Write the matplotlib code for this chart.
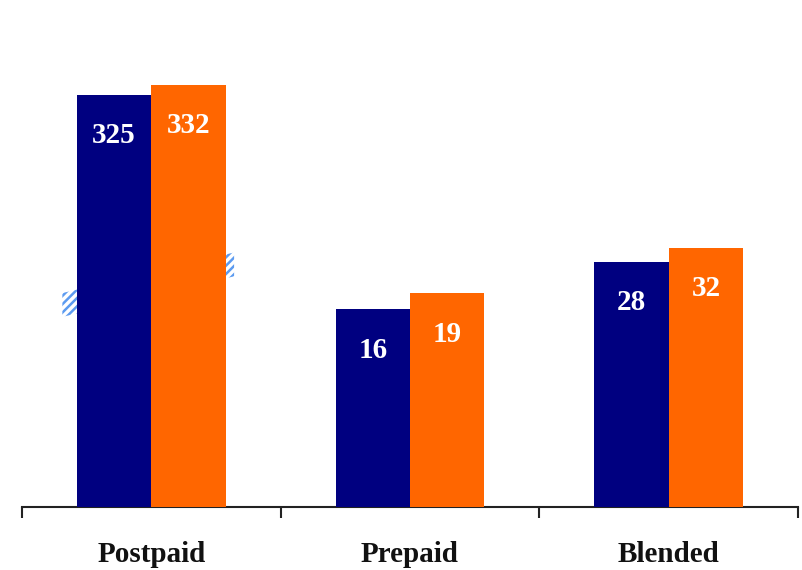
import numpy as np
import matplotlib
matplotlib.use("Agg")
import matplotlib.pyplot as plt
from matplotlib.scale import FuncScale
from matplotlib.patches import Polygon
import matplotlib.transforms as mtransforms

# ---- data ----
categories = ["Postpaid", "Prepaid", "Blended"]
series_a = [325, 16, 28]   # navy
series_b = [332, 19, 32]   # orange

# ---- style ----
NAVY = "#000080"
ORANGE = "#FF6600"
HATCH_BLUE = "#5C9BF0"
FONT = "Liberation Serif"

# broken (non-linear) value axis: knots in value -> relative display units
VK = np.array([0, 16, 19, 32, 320, 400], dtype=float)
PK = np.array([0, 198, 214, 259, 405, 521], dtype=float)

def fwd(v):
    return np.interp(v, VK, PK)

def inv(p):
    return np.interp(p, PK, VK)

plt.rcParams["hatch.linewidth"] = 1.8

W, H = 802, 570
fig = plt.figure(figsize=(W / 100, H / 100), dpi=100)
ax = fig.add_axes([22 / W, 63 / H, 776 / W, 507 / H])
ax.set_yscale(FuncScale(ax, (fwd, inv)))
ax.set_ylim(0, inv(507))
ax.set_xlim(-0.5, 2.5)

x = np.arange(len(categories))
bw = 0.288
bars_a = ax.bar(x - bw / 2, series_a, width=bw, color=NAVY, zorder=3)
bars_b = ax.bar(x + bw / 2, series_b, width=bw, color=ORANGE, zorder=3)

# axis-break band behind the Postpaid bars
trans = mtransforms.blended_transform_factory(ax.transData, ax.transAxes)
band = Polygon([(-0.344, 0.375), (0.32, 0.455), (0.32, 0.502), (-0.344, 0.422)],
               closed=True, facecolor="none", edgecolor=HATCH_BLUE, linewidth=0,
               hatch="////", transform=trans, zorder=1)
ax.add_patch(band)

for bars, vals in ((bars_a, series_a), (bars_b, series_b)):
    for b, v in zip(bars, vals):
        ax.annotate(str(v), (b.get_x() + b.get_width() / 2, v),
                    xytext=(0, -41), textcoords="offset pixels",
                    ha="center", va="center", color="white",
                    fontsize=21, fontweight="bold", family=FONT, zorder=4)

for sp in ("top", "right", "left"):
    ax.spines[sp].set_visible(False)
ax.spines["bottom"].set_linewidth(1.5)
ax.spines["bottom"].set_color("#222222")
ax.set_yticks([])
ax.yaxis.set_minor_locator(matplotlib.ticker.NullLocator())
ax.set_xticks([-0.5, 0.5, 1.5, 2.5])
ax.set_xticklabels([])
ax.tick_params(axis="x", which="major", direction="out", length=8, width=1.5, color="#222222")

for xi, c in zip(x, categories):
    ax.text(xi, -55 / 507, c, transform=trans, ha="center", va="baseline",
            fontsize=21, fontweight="bold", family=FONT, color="#111111")

fig.savefig("out.png", dpi=100)
